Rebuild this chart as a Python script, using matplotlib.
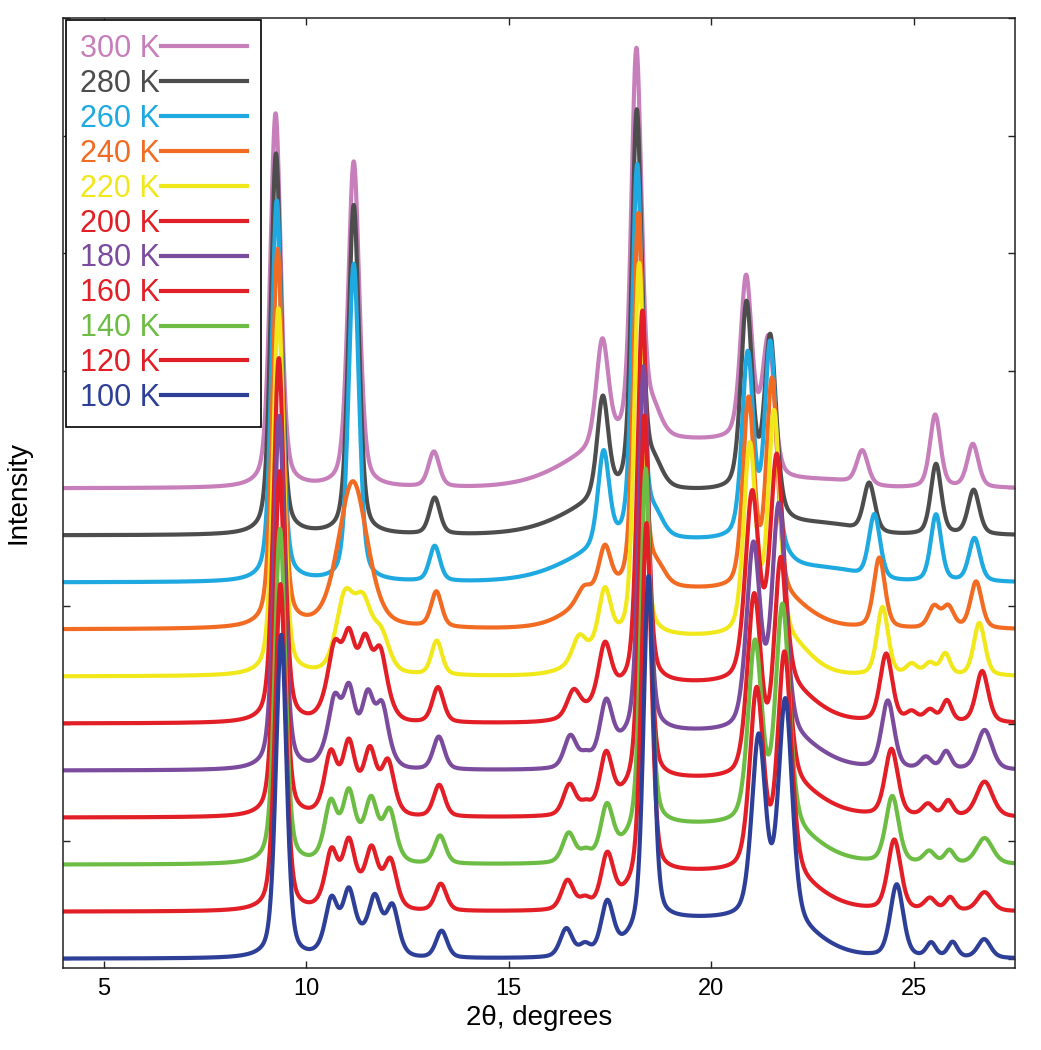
import numpy as np
import matplotlib
matplotlib.use("Agg")
from matplotlib import pyplot as plt

plt.rcParams['font.family'] = ['Liberation Sans', 'DejaVu Sans']

# series, top of the stack first (also drawing order, so 100 K ends on top)
temps = [300, 280, 260, 240, 220, 200, 180, 160, 140, 120, 100]
colors = ['#c77fbb', '#4d4d4d', '#1fa9e1', '#f26b22', '#f1e81c', '#e21f26',
          '#7b4b9d', '#e21f26', '#6dbd45', '#e21f26', '#2e3f98']
offsets = [4.0, 3.6, 3.2, 2.8, 2.4, 2.0, 1.6, 1.2, 0.8, 0.4, 0.0]

# peaks: (2theta, height, fwhm) per series
peaks = [
    # 300 K
    [(9.24, 3.18, 0.31), (11.17, 2.77, 0.33), (13.15, 0.30, 0.32), (17.31, 0.90, 0.36),
     (18.15, 3.30, 0.30), (18.55, 0.22, 0.50), (20.86, 1.38, 0.33), (21.42, 0.95, 0.33),
     (23.73, 0.29, 0.33), (25.53, 0.62, 0.31), (26.46, 0.37, 0.33)],
    # 280 K
    [(9.25, 3.24, 0.30), (11.17, 2.80, 0.31), (13.17, 0.31, 0.31), (17.32, 0.85, 0.33),
     (18.16, 3.22, 0.29), (18.58, 0.20, 0.50), (20.87, 1.58, 0.33), (21.46, 1.36, 0.33),
     (23.90, 0.42, 0.33), (25.55, 0.60, 0.31), (26.48, 0.38, 0.33)],
    # 260 K
    [(9.27, 3.24, 0.30), (11.17, 2.70, 0.31), (13.17, 0.30, 0.31), (17.34, 0.80, 0.33),
     (18.17, 3.18, 0.29), (18.60, 0.18, 0.50), (20.90, 1.56, 0.33), (21.46, 1.70, 0.33),
     (24.03, 0.55, 0.33), (25.55, 0.57, 0.31), (26.50, 0.37, 0.33)],
    # 240 K
    [(9.29, 3.21, 0.31), (11.15, 1.25, 0.85), (13.21, 0.30, 0.31), (16.85, 0.12, 0.40),
     (17.37, 0.38, 0.35), (18.20, 3.18, 0.29), (18.65, 0.15, 0.50), (20.92, 1.60, 0.33),
     (21.50, 1.80, 0.33), (24.15, 0.60, 0.33), (25.50, 0.18, 0.33), (25.85, 0.18, 0.33),
     (26.54, 0.40, 0.33)],
    # 220 K
    [(9.31, 3.12, 0.31), (10.95, 0.62, 0.52), (11.40, 0.55, 0.52), (11.85, 0.30, 0.48),
     (13.22, 0.29, 0.31), (16.73, 0.20, 0.38), (17.37, 0.45, 0.35), (18.22, 3.18, 0.29),
     (20.95, 1.60, 0.35), (21.55, 1.90, 0.35), (24.23, 0.58, 0.33), (24.95, 0.09, 0.33),
     (25.40, 0.10, 0.33), (25.78, 0.18, 0.28), (26.62, 0.45, 0.33)],
    # 200 K
    [(9.32, 3.10, 0.31), (10.70, 0.40, 0.34), (11.05, 0.47, 0.34), (11.45, 0.43, 0.34),
     (11.82, 0.37, 0.34), (13.25, 0.30, 0.33), (16.60, 0.22, 0.38), (17.37, 0.45, 0.36),
     (18.30, 3.18, 0.29), (21.01, 1.58, 0.40), (21.62, 1.93, 0.40), (24.32, 0.58, 0.36),
     (24.95, 0.08, 0.33), (25.40, 0.10, 0.33), (25.82, 0.18, 0.28), (26.69, 0.44, 0.36)],
    # 180 K
    [(9.33, 3.01, 0.31), (10.70, 0.37, 0.32), (11.05, 0.44, 0.32), (11.52, 0.39, 0.32),
     (11.87, 0.33, 0.32), (13.27, 0.28, 0.33), (16.52, 0.27, 0.36), (16.90, 0.08, 0.33),
     (17.40, 0.46, 0.36), (18.33, 3.13, 0.29), (21.04, 1.56, 0.40), (21.67, 1.93, 0.40),
     (24.36, 0.58, 0.37), (25.30, 0.10, 0.33), (25.80, 0.15, 0.28), (26.75, 0.34, 0.44)],
    # 160 K
    [(9.34, 2.94, 0.31), (10.60, 0.35, 0.32), (11.05, 0.41, 0.32), (11.57, 0.35, 0.32),
     (12.02, 0.29, 0.32), (13.28, 0.27, 0.33), (16.50, 0.26, 0.36), (16.90, 0.08, 0.33),
     (17.40, 0.46, 0.36), (18.35, 3.13, 0.29), (21.06, 1.53, 0.40), (21.72, 1.88, 0.40),
     (24.45, 0.57, 0.38), (25.35, 0.10, 0.33), (25.85, 0.13, 0.28), (26.75, 0.30, 0.48)],
    # 140 K
    [(9.35, 2.85, 0.31), (10.60, 0.34, 0.32), (11.05, 0.40, 0.32), (11.60, 0.34, 0.32),
     (12.06, 0.28, 0.32), (13.30, 0.24, 0.33), (16.48, 0.25, 0.36), (16.90, 0.08, 0.33),
     (17.42, 0.43, 0.36), (18.38, 3.08, 0.29), (21.08, 1.53, 0.40), (21.76, 1.88, 0.40),
     (24.47, 0.57, 0.38), (25.38, 0.10, 0.33), (25.88, 0.11, 0.28), (26.75, 0.22, 0.48)],
    # 120 K
    [(9.36, 2.78, 0.31), (10.62, 0.33, 0.32), (11.05, 0.39, 0.32), (11.61, 0.33, 0.32),
     (12.08, 0.27, 0.32), (13.32, 0.23, 0.33), (16.45, 0.25, 0.36), (16.88, 0.08, 0.33),
     (17.43, 0.43, 0.36), (18.40, 3.03, 0.29), (21.12, 1.53, 0.40), (21.81, 1.88, 0.40),
     (24.52, 0.60, 0.38), (25.40, 0.10, 0.33), (25.90, 0.11, 0.28), (26.75, 0.16, 0.43)],
    # 100 K
    [(9.38, 2.75, 0.31), (10.62, 0.32, 0.32), (11.05, 0.37, 0.32), (11.69, 0.32, 0.32),
     (12.13, 0.28, 0.32), (13.34, 0.23, 0.33), (16.42, 0.24, 0.36), (16.88, 0.09, 0.33),
     (17.43, 0.43, 0.36), (18.45, 2.98, 0.29), (21.17, 1.53, 0.40), (21.83, 1.88, 0.40),
     (24.58, 0.62, 0.38), (25.43, 0.12, 0.28), (25.96, 0.13, 0.28), (26.74, 0.16, 0.38)],
]

# broad background humps: (start, end, height, rise width, fall width)
humps = [
    [(16.4, 21.5, 0.40, 0.6, 0.10), (21.5, 23.6, 0.07, 0.1, 0.3)],
    [(16.5, 21.6, 0.37, 0.6, 0.12), (21.6, 23.5, 0.10, 0.1, 0.3)],
    [(16.5, 21.7, 0.35, 0.6, 0.15), (21.7, 23.6, 0.12, 0.1, 0.3)],
    [(16.6, 22.3, 0.33, 0.4, 0.40)],
    [(16.9, 22.4, 0.33, 0.35, 0.30)],
    [(10.4, 12.1, 0.25, 0.12, 0.12), (17.2, 22.5, 0.33, 0.35, 0.40)],
    [(10.4, 12.1, 0.24, 0.12, 0.12), (17.6, 22.6, 0.32, 0.30, 0.45)],
    [(10.4, 12.2, 0.22, 0.12, 0.12), (17.8, 22.6, 0.32, 0.30, 0.45)],
    [(10.4, 12.25, 0.21, 0.12, 0.12), (17.9, 22.6, 0.33, 0.30, 0.45)],
    [(10.4, 12.25, 0.20, 0.12, 0.12), (18.0, 22.6, 0.33, 0.30, 0.45)],
    [(10.4, 12.3, 0.20, 0.12, 0.12), (18.05, 22.6, 0.33, 0.30, 0.45)],
]


def pseudo_voigt(x, c, h, w, eta=0.4):
    g = np.exp(-4 * np.log(2) * ((x - c) / w) ** 2)
    l = 1 / (1 + ((x - c) / (w / 2)) ** 2)
    return h * ((1 - eta) * g + eta * l)


def plateau(x, a, b, h, w1, w2):
    return h / (1 + np.exp(-(x - a) / w1)) / (1 + np.exp(-(b - x) / w2))


two_theta = np.linspace(4, 27.5, 3000)

fig = plt.figure(figsize=(10.41, 10.5), dpi=100)
ax = fig.add_axes([0.0609, 0.0781, 0.9141, 0.9048])

for t, col, off, pk, hm in zip(temps, colors, offsets, peaks, humps):
    y = np.full_like(two_theta, off)
    for c, h, w in pk:
        y += pseudo_voigt(two_theta, c, h, w)
    for a, b, h, w1, w2 in hm:
        y += plateau(two_theta, a, b, h, w1, w2)
    ax.plot(two_theta, y, color=col, lw=3.0, label='%d K' % t, solid_joinstyle='round')

ax.set_xlim(4, 27.5)
ax.set_ylim(-0.079, 8.0)
ax.set_xticks([5, 10, 15, 20, 25])
ax.set_yticks(range(0, 9))
ax.set_yticklabels([])
ax.tick_params(direction='in', length=5, width=1.0, top=True, right=True,
               labelsize=17, pad=7, color='#222222')
for s in ax.spines.values():
    s.set_linewidth(1.1)
    s.set_color('#222222')

ax.set_xlabel('2θ, degrees', fontsize=20, labelpad=4)
ax.set_ylabel('Intensity', fontsize=20, labelpad=16)

leg = ax.legend(loc='upper left', markerfirst=False, fancybox=False, edgecolor='black',
                fontsize=22, handlelength=2.8, handletextpad=0.05, labelspacing=0.16,
                borderpad=0.45, borderaxespad=0.08, framealpha=1)
leg.get_frame().set_linewidth(1.2)
for txt, col in zip(leg.get_texts(), colors):
    txt.set_color(col)

plt.savefig('out.png', dpi=100)
